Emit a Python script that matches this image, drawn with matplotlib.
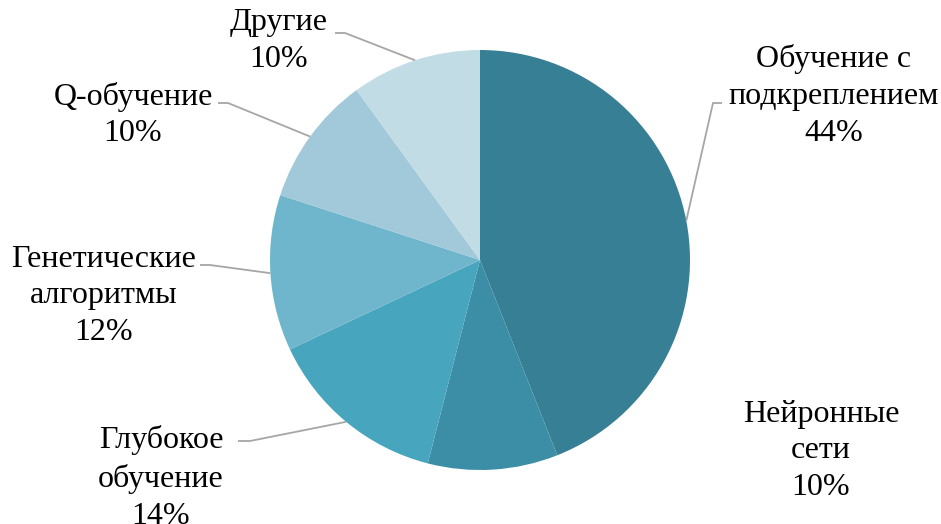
import numpy as np
import matplotlib
matplotlib.use("Agg")
import matplotlib.pyplot as plt

# Data
labels = ["Обучение с\nподкреплением", "Нейронные\nсети", "Глубокое\nобучение",
          "Генетические\nалгоритмы", "Q-обучение", "Другие"]
shares = [44, 10, 14, 12, 10, 10]
colors = ["#377F94", "#3B8EA5", "#47A5BE", "#6FB6CC", "#A2C9DA", "#C2DCE5"]

W, H = 941, 524
plt.rcParams['font.family'] = ['Liberation Serif', 'DejaVu Serif']

fig = plt.figure(figsize=(W / 100, H / 100), dpi=100)
ax = fig.add_axes([0, 0, 1, 1])

cx, cy, r = 480, H - 260, 210
wedges, _ = ax.pie(shares, colors=colors, startangle=90, counterclock=False,
                   center=(cx, cy), radius=r, frame=True,
                   wedgeprops=dict(linewidth=0))
ax.set_xlim(0, W)
ax.set_ylim(0, H)
ax.set_aspect('equal')
ax.axis('off')

# label layout: text centre, elbow point, end of horizontal stub (None = no leader)
layout = [
    ((834, 96), (713, 103), (722, 103)),
    ((821, 451), None, None),
    ((161, 478), (250, 441), (238, 441)),
    ((104, 296), (210, 265), (200, 265)),
    ((133, 115), (228, 103), (218, 103)),
    ((279, 41), (345, 33), (335, 33)),
]

for w, lab, val, (txt, elbow, stub) in zip(wedges, labels, shares, layout):
    ax.text(txt[0], H - txt[1], f"{lab}\n{val}%", ha='center', va='center',
            fontsize=23, color='#000000', linespacing=1.36)
    if elbow is None:
        continue
    mid = np.deg2rad((w.theta1 + w.theta2) / 2)
    ex, ey = cx + r * np.cos(mid), cy + r * np.sin(mid)
    ax.plot([ex, elbow[0], stub[0]], [ey, H - elbow[1], H - stub[1]],
            color='#A6A6A6', linewidth=1.3, solid_capstyle='butt')

fig.savefig("out.png", dpi=100)
